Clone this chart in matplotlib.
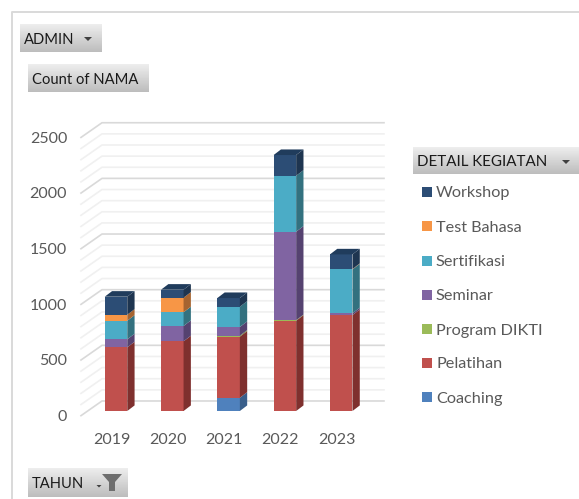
import numpy as np
import matplotlib
matplotlib.use('Agg')
import matplotlib.pyplot as plt
from matplotlib.patches import Rectangle
from matplotlib.transforms import ScaledTranslation

plt.rcParams['font.family'] = ['Lato', 'DejaVu Sans']

years = ['2019', '2020', '2021', '2022', '2023']
coaching = [0, 0, 119, 0, 0]
pelatihan = [572, 626, 549, 811, 862]
program_dikti = [0, 0, 9, 5, 0]
seminar = [72, 138, 78, 795, 16]
sertifikasi = [167, 123, 182, 503, 394]
test_bahasa = [54, 131, 0, 0, 4]
workshop = [162, 72, 78, 186, 131]

names = ['Coaching', 'Pelatihan', 'Program DIKTI', 'Seminar', 'Sertifikasi', 'Test Bahasa', 'Workshop']
series = [coaching, pelatihan, program_dikti, seminar, sertifikasi, test_bahasa, workshop]
front = ['#4f81bd', '#c0504d', '#9bbb59', '#8064a2', '#4bacc6', '#f79646', '#2c4d75']
side = ['#3a5f8b', '#7f302e', '#6b8239', '#554270', '#33717f', '#a66430', '#1e3550']
top = ['#41689a', '#99403d', '#7c9647', '#66508a', '#3c8a9e', '#c57838', '#203c5c']

W, H = 579, 499
fig = plt.figure(figsize=(W / 100, H / 100), dpi=100)

# page layer in pixel coords for the pivot buttons and legend
page = fig.add_axes([0, 0, 1, 1], zorder=0)
page.set_xlim(0, W)
page.set_ylim(H, 0)
page.axis('off')


def button(x0, y0, x1, y1, label, size=10.6):
    grad = np.linspace(0.93, 0.74, 30).reshape(-1, 1)
    page.imshow(grad, extent=(x0, x1, y1, y0), cmap='gray', vmin=0, vmax=1, aspect='auto')
    page.text(x0 + 4, (y0 + y1) / 2 + 1.5, label, fontsize=size, color='#1a1a1a', va='center', ha='left')


def arrow(x, y, w=8, h=4):
    page.fill([x - w / 2, x + w / 2, x], [y, y, y + h], color='#404040', lw=0)


page.plot([11.5, 11.5, W], [H, 11.5, 11.5], color='#d9d9d9', lw=1.4)

button(20, 24, 102, 52, 'ADMIN')
arrow(88, 37)
button(28, 64, 149, 92, 'Count of NAMA')
button(413, 147, W, 174, 'DETAIL KEGIATAN', size=10.9)
arrow(566, 160)
button(28, 468, 128, 497, 'TAHUN')
arrow(99, 485, 5, 2.5)
page.fill([102, 122, 115, 115, 109, 109], [474, 474, 482, 491, 491, 482], color='#6e6e6e', lw=0)

legend_y = [397, 363, 329, 295, 260.5, 226, 192]
for name, color, y in zip(names, front, legend_y):
    page.add_patch(Rectangle((422, y - 5), 10, 10, color=color, lw=0))
    page.text(436, y + 1.5, name, fontsize=11.7, color='#595959', va='center', ha='left')

page.set_xlim(0, W)
page.set_ylim(H, 0)

# chart layer, one category = 56.3 px, one count = 0.1113 px
px_x = 56.3
px_y = 0.1113
left, right, upper, lower = 72, 390, 110, 420
ax = fig.add_axes([left / W, 1 - lower / H, (right - left) / W, (lower - upper) / H], zorder=1)
ax.patch.set_visible(False)
ax.set_xlim((left - 116) / px_x, (right - 116) / px_x)
ax.set_ylim((411 - lower) / px_y, (411 - upper) / px_y)
for s in ax.spines.values():
    s.set_visible(False)

# walls of the 3d box
back_x0, back_x1 = -0.249, 4.76
back_dy = 90
wall_x0 = -0.622
wall_dy = -42
for v in range(0, 2600, 100):
    major = v % 500 == 0
    c = '#d9d9d9' if major else '#f0f0f0'
    ax.plot([wall_x0, back_x0, back_x1], [v + wall_dy, v + back_dy, v + back_dy],
            color=c, lw=1.2, zorder=1 if not major else 1.5, clip_on=False)

# bars
x = np.arange(len(years))
bar_w = 0.4
depth_x = 0.13
depth_y = 50
bottom = np.zeros(len(years))
for vals, f, sd in zip(series, front, side):
    vals = np.array(vals, dtype=float)
    ax.bar(x, vals, bar_w, bottom=bottom, color=f, lw=0, zorder=3)
    for i in x:
        if vals[i] == 0:
            continue
        xr = i + bar_w / 2
        y0, y1 = bottom[i], bottom[i] + vals[i]
        ax.fill([xr, xr + depth_x, xr + depth_x, xr],
                [y0, y0 + depth_y, y1 + depth_y, y1], color=sd, lw=0, zorder=3)
    bottom += vals

# lid on top of every stack, coloured by the last series present
for i in x:
    last = max(k for k in range(len(series)) if series[k][i] > 0)
    xl, xr = i - bar_w / 2, i + bar_w / 2
    ax.fill([xl, xr, xr + depth_x, xl + depth_x],
            [bottom[i], bottom[i], bottom[i] + depth_y, bottom[i] + depth_y],
            color=top[last], lw=0, zorder=3)

ax.set_xticks(x)
ax.set_xticklabels(years)
ax.set_yticks(np.arange(0, 2501, 500))
ax.tick_params(axis='both', length=0, labelsize=11.5, labelcolor='#595959')
ax.tick_params(axis='x', pad=9)
ax.tick_params(axis='y', pad=3.5)
for lab in ax.get_xticklabels():
    lab.set_transform(lab.get_transform() + ScaledTranslation(-4.5 / 100, 0, fig.dpi_scale_trans))
for lab in ax.get_yticklabels():
    lab.set_transform(lab.get_transform() + ScaledTranslation(0, -4.5 / 100, fig.dpi_scale_trans))

fig.savefig('out.png', dpi=100)
